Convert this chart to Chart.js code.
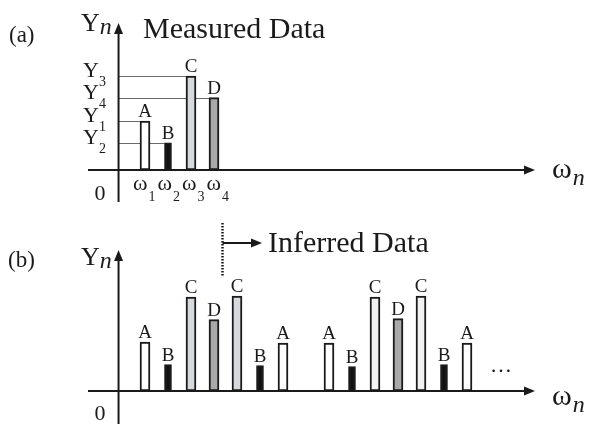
<!DOCTYPE html>
<html>
<head>
<meta charset="utf-8">
<script src="https://cdn.jsdelivr.net/npm/chart.js@4.4.1/dist/chart.umd.min.js"></script>
<style>
  html, body { margin: 0; padding: 0; background: #fff; }
  #wrap { position: relative; width: 595px; height: 424px; }
  canvas { position: absolute; left: 0; }
  #ca { top: 0; }
  #cb { top: 212px; }
</style>
</head>
<body>
<div id="wrap">
  <canvas id="ca" width="595" height="212"></canvas>
  <canvas id="cb" width="595" height="212"></canvas>
</div>
<script>
// dados do diagrama: (a) medidos, (b) inferidos
var LETTERS    = ["A", "B", "C", "D"];

var measSlots   = [0, 1, 2, 3];
var measLetters = ["A", "B", "C", "D"];
var measValues  = [0.52, 0.29, 1.00, 0.77];
var yTickSubs   = ["1", "2", "3", "4"];   // Y1..Y4 -> A..D

var infSlots   = [0, 1, 2, 3, 4, 5, 6, 8, 9, 10, 11, 12, 13, 14];
var infLetters = ["A", "B", "C", "D", "C", "B", "A", "A", "B", "C", "D", "C", "B", "A"];
var infValues  = [0.52, 0.28, 1.00, 0.76, 1.01, 0.27, 0.51, 0.51, 0.26, 1.00, 0.77, 1.01, 0.28, 0.51];

var FONT = "'Liberation Serif', 'DejaVu Serif', serif";
var INK  = "#1a1a1a";

var FILL = { A: "#ffffff", B: "#111111", D: "#a9a9a9" };
var C_FILL_1 = "#d6d9dd";   // primeiro grupo
var C_FILL_2 = "#f2f2f2";   // segundo grupo
var WIDTH = { A: 10, B: 7, C: 10, D: 10 };

var Y_AXIS_AT = -1.15;      // posição do eixo vertical (em slots)

function _buildDatasets(slots, letters, values) {
  return LETTERS.map(function(L) {
    var pts = [], cols = [];
    letters.forEach(function(l, i) {
      if (l !== L) return;
      pts.push({ x: slots[i], y: values[i] });
      if (L === "C") cols.push(slots[i] < 7 ? C_FILL_1 : C_FILL_2);
      else cols.push(FILL[L]);
    });
    return {
      label: L,
      data: pts,
      backgroundColor: cols,
      borderColor: INK,
      borderWidth: 2,
      borderSkipped: false,
      barThickness: WIDTH[L],
      grouped: false
    };
  });
}

function _arrow(ctx, x, y, dir) {
  ctx.beginPath();
  if (dir === "up") {
    ctx.moveTo(x, y); ctx.lineTo(x - 4.5, y + 11); ctx.lineTo(x + 4.5, y + 11);
  } else {
    ctx.moveTo(x, y); ctx.lineTo(x - 11, y - 4.5); ctx.lineTo(x - 11, y + 4.5);
  }
  ctx.closePath();
  ctx.fill();
}

function _drawAxes(chart) {
  var ctx = chart.ctx, xs = chart.scales.x, ys = chart.scales.y;
  var y0 = ys.getPixelForValue(0), xa = xs.getPixelForValue(Y_AXIS_AT);
  ctx.save();
  ctx.strokeStyle = INK; ctx.fillStyle = INK; ctx.lineWidth = 2;
  ctx.beginPath();
  ctx.moveTo(xs.left, y0); ctx.lineTo(xs.right - 8, y0);
  ctx.moveTo(xa, ys.bottom); ctx.lineTo(xa, ys.top + 8);
  ctx.stroke();
  _arrow(ctx, xs.right, y0, "right");
  _arrow(ctx, xa, ys.top, "up");
  ctx.restore();
}

function _text(ctx, s, x, y, size, opts) {
  opts = opts || {};
  ctx.font = (opts.italic ? "italic " : "") + size + "px " + FONT;
  ctx.textAlign = opts.align || "left";
  ctx.textBaseline = "alphabetic";
  ctx.fillText(s, x, y);
  return ctx.measureText(s).width;
}

function _drawBarLetters(chart) {
  var ctx = chart.ctx;
  ctx.save(); ctx.fillStyle = INK;
  chart.data.datasets.forEach(function(ds, i) {
    chart.getDatasetMeta(i).data.forEach(function(bar) {
      _text(ctx, ds.label, bar.x, bar.y - 4, 19, { align: "center" });
    });
  });
  ctx.restore();
}

function _drawAxisTitles(chart, yBase, zeroBase, wBase) {
  var ctx = chart.ctx;
  ctx.save(); ctx.fillStyle = INK;
  var w = _text(ctx, "Y", 81, yBase, 26);
  _text(ctx, "n", 81 + w, yBase + 3, 24, { italic: true });
  _text(ctx, "0", 100, zeroBase, 22, { align: "center" });
  w = _text(ctx, "\u03c9", 552, wBase, 30);
  _text(ctx, "n", 552 + w + 1, wBase + 7, 24, { italic: true });
  ctx.restore();
}

// plugin do painel (a)
var measuredPlugin = {
  id: "measured",
  beforeDatasetsDraw: function(chart) {
    var ctx = chart.ctx, xs = chart.scales.x, ys = chart.scales.y;
    var xa = xs.getPixelForValue(Y_AXIS_AT);
    ctx.save();
    ctx.strokeStyle = "#6a6a6a"; ctx.lineWidth = 1;
    chart.data.datasets.forEach(function(ds, i) {
      var bar = chart.getDatasetMeta(i).data[0];
      var yy = Math.round(ys.getPixelForValue(ds.data[0].y)) + 0.5;
      ctx.beginPath();
      ctx.moveTo(xa, yy); ctx.lineTo(bar.x - bar.width / 2, yy);
      ctx.stroke();
    });
    ctx.restore();
  },
  afterDatasetsDraw: function(chart) {
    var ctx = chart.ctx, ys = chart.scales.y;
    _drawAxes(chart);
    _drawBarLetters(chart);
    _drawAxisTitles(chart, 31, 200, 178);
    ctx.save(); ctx.fillStyle = INK;
    _text(ctx, "(a)", 9, 42, 23);
    _text(ctx, "Measured Data", 143, 38, 30);
    // Y1..Y4
    measValues.forEach(function(v, i) {
      var yy = ys.getPixelForValue(v);
      var w = _text(ctx, "Y", 83, yy + 1, 22);
      _text(ctx, yTickSubs[i], 83 + w, yy + 10, 14);
    });
    // ω1..ω4
    var x = 133;
    measSlots.forEach(function(s, i) {
      x += _text(ctx, "\u03c9", x, 190, 22) + 1;
      x += _text(ctx, String(i + 1), x, 201, 14) + 2;
    });
    ctx.restore();
  }
};

// plugin do painel (b)
var inferredPlugin = {
  id: "inferred",
  afterDatasetsDraw: function(chart) {
    var ctx = chart.ctx, xs = chart.scales.x;
    _drawAxes(chart);
    _drawBarLetters(chart);
    _drawAxisTitles(chart, 53, 208, 193);
    ctx.save(); ctx.fillStyle = INK; ctx.strokeStyle = INK;
    _text(ctx, "(b)", 8, 55, 23);
    // divisória pontilhada + seta
    var xd = Math.round(xs.getPixelForValue(3.35)) + 0.5;
    ctx.lineWidth = 2.5;
    ctx.setLineDash([1.5, 1.5]);
    ctx.beginPath(); ctx.moveTo(xd, 11); ctx.lineTo(xd, 65); ctx.stroke();
    ctx.setLineDash([]);
    ctx.lineWidth = 2;
    ctx.beginPath(); ctx.moveTo(xd, 31); ctx.lineTo(254, 31); ctx.stroke();
    _arrow(ctx, 262, 31, "right");
    _text(ctx, "Inferred Data", 268, 40, 30);
    _text(ctx, "\u2026", 501, 160, 22, { align: "center" });
    ctx.restore();
  }
};

function _makeConfig(datasets, yMin, yMax, padTop, padBottom, plugin) {
  return {
    type: "bar",
    data: { datasets: datasets },
    options: {
      responsive: false,
      devicePixelRatio: 1,
      animation: false,
      layout: { padding: { left: 88, right: 60, top: padTop, bottom: padBottom } },
      plugins: { legend: { display: false }, tooltip: { enabled: false } },
      scales: {
        x: { type: "linear", offset: false, min: -2.478, max: 16.957, display: false },
        y: { type: "linear", min: yMin, max: yMax, display: false }
      }
    },
    plugins: [plugin]
  };
}

new Chart(document.getElementById("ca"),
  _makeConfig(_buildDatasets(measSlots, measLetters, measValues), -0.340, 1.564, 23, 10, measuredPlugin));
new Chart(document.getElementById("cb"),
  _makeConfig(_buildDatasets(infSlots, infLetters, infValues), -0.351, 1.500, 38, 0, inferredPlugin));
</script>
</body>
</html>
